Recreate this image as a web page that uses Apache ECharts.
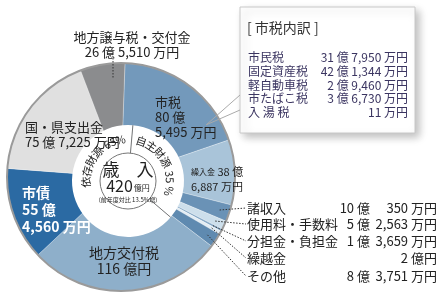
<!DOCTYPE html>
<html><head><meta charset="utf-8">
<script src="https://cdn.jsdelivr.net/npm/echarts@6/dist/echarts.min.js"></script>
<style>html,body{margin:0;padding:0;background:#fff}#c{width:447px;height:304px}</style>
</head><body><div id="c"></div>
<script>
// ---- data (values in 万円) ----
const categories = ['市税','繰入金','諸収入','使用料・手数料','分担金・負担金','繰越金','その他','地方交付税','市債','国・県支出金','地方譲与税・交付金'];
const values = [805495, 386887, 100350, 52563, 13659, 20000, 83751, 1160000, 554560, 757225, 265510];
const sliceColors = ['#7399bb','#a9c4d9','#6a92b6','#cddfeb','#85a8c6','#e3edf4','#5f8ab0','#8eafca','#2b6aa3','#e0e0e0','#8b8c8e'];
const sourceGroups = ['自主財源','依存財源'];
const sourceShares = ['35 %','65%'];
const breakdownNames = ['市民税','固定資産税','軽自動車税','市たばこ税','入 湯 税'];
const breakdownValues = [317950, 421344, 29460, 36730, 11];
const centerTitle = '歳　入';
const totalOku = '420';
const changeNote = '(前年度対比 13.5%増)';

const FONT = '"Noto Sans CJK JP", "Noto Sans", sans-serif';
const C = [121, 177], R = 114;          // outer pie
const H = [128, 181], HR = 56, IR = 28; // hole / inner circle
const START = 88;                        // echarts startAngle (deg, ccw from +x)

function sep(n){ return n.toLocaleString('en-US'); }
function parts(v){ const o=Math.floor(v/10000), m=v%10000; return {o, m}; }
function fmtFull(v){
  const p=parts(v);
  if(p.m===0) return p.o+' 億円';
  if(p.o===0) return sep(p.m)+' 万円';
  return p.o+' 億 '+sep(p.m)+' 万円';
}

const total = values.reduce((a,b)=>a+b,0);
const selfSum = values.slice(0,7).reduce((a,b)=>a+b,0);
// clockwise angle from top for each slice boundary
const offset = 90-START;
const cum=[0]; values.forEach(v=>cum.push(cum[cum.length-1]+v/total*360));
function pt(center, r, th){ const a=th*Math.PI/180; return [center[0]+r*Math.sin(a), center[1]-r*Math.cos(a)]; }
function midAngle(i){ return offset+(cum[i]+cum[i+1])/2; }

const g = [];
function txt(x,y,text,size,opt){
  opt=opt||{};
  g.push({type:'text', z:100, x:x, y:y, rotation:opt.rot||0,
    style:{text:text, x:0, y:0, fill:opt.fill||'#222', font:(opt.weight||'normal')+' '+size+'px '+FONT,
      textAlign:opt.align||'left', textVerticalAlign:'middle'}});
}
function line(pts, opt){
  opt=opt||{};
  g.push({type:'polyline', z:99, shape:{points:pts}, style:{stroke:opt.stroke||'#333', lineWidth:opt.w||1, lineDash:opt.dash||null, fill:null}});
}

// outer border ring
g.push({type:'circle', z:50, shape:{cx:C[0], cy:C[1], r:R}, style:{fill:null, stroke:'#9a9a9a', lineWidth:2}});
// inner circle
g.push({type:'circle', z:60, shape:{cx:H[0], cy:H[1], r:IR}, style:{fill:'#fff', stroke:'#777', lineWidth:1}});
// inner dividers (自主/依存)
const innerStart = 5, innerSplit = innerStart + selfSum/total*360;
[innerStart, innerSplit].forEach(th=>{ line([pt(H,IR,th), pt(H,HR,th)], {stroke:'#777'}); });

// arc text
function charW(ch, fs){ if(ch===' ') return fs*0.3; if(/[0-9]/.test(ch)) return fs*0.6; if(ch==='%') return fs*0.8; return fs; }
function arcText(str, startDeg, r, fs){
  let cur=startDeg;
  for(const ch of str){
    const w=charW(ch,fs), d=w/r*180/Math.PI;
    const th=cur+d/2; const p=pt(H,r,th);
    if(ch!==' ') txt(p[0],p[1],ch,fs,{align:'center', rot:-th*Math.PI/180});
    cur+=d;
  }
}
arcText(sourceGroups[0]+' '+sourceShares[0], innerStart+6, 42, 11);
arcText(sourceGroups[1]+' '+sourceShares[1], 261, 42, 11);

// center text
txt(H[0], 170, centerTitle, 17, {align:'center'});
g.push({type:'text', z:100, x:H[0], y:186, style:{text:'{a|'+totalOku+'}{b|億円}', x:0, y:0, textAlign:'center', textVerticalAlign:'middle',
  rich:{a:{font:'16px '+FONT, fill:'#222'}, b:{font:'8px '+FONT, fill:'#222', padding:[4,0,0,1]}}}});
txt(H[0], 200, changeNote, 6, {align:'center'});

// slice labels
(function(){
  const p=parts(values[0]);
  txt(155,102,categories[0],13); txt(155,117,p.o+' 億',13); txt(155,132,sep(p.m)+' 万円',13);
  const q=parts(values[1]);
  g.push({type:'text', z:100, x:191, y:172, style:{text:'{s|'+categories[1]+'}{b| '+q.o+' 億}', x:0,y:0, textVerticalAlign:'middle',
     rich:{s:{font:'8px '+FONT, fill:'#222'}, b:{font:'11px '+FONT, fill:'#222'}}}});
  txt(191,187,sep(q.m)+' 万円',11);
  const t=parts(values[7]);
  txt(124,253,categories[7],14,{align:'center'}); txt(124,269,t.o+' 億円',14,{align:'center'});
  const s=parts(values[8]);
  txt(22,193,categories[8],14,{fill:'#fff',weight:'bold'}); txt(22,210,s.o+' 億',14,{fill:'#fff',weight:'bold'}); txt(22,227,sep(s.m)+' 万円',14,{fill:'#fff',weight:'bold'});
  const k=parts(values[9]);
  txt(25,127,categories[9],13); txt(25,142,k.o+' 億 '+sep(k.m)+' 万円',13);
  const c=parts(values[10]);
  txt(132,37,categories[10],13,{align:'center'}); txt(132,52,c.o+' 億 '+sep(c.m)+' 万円',13,{align:'center'});
  line([[113,58],[113,78]],{dash:[1.5,1.5]});
})();

// right-side small slices
const rowY=[208,224,241,258,276];
for(let i=2;i<=6;i++){
  const y=rowY[i-2];
  const p=pt(C,104,midAngle(i));
  line([p,[246,y]],{dash:[1.5,1.5]});
  txt(247,y,categories[i],13);
  const pp=parts(values[i]);
  if(pp.m===0){ txt(437,y,pp.o+' 億円',13,{align:'right'}); }
  else { txt(370,y,pp.o+' 億',13,{align:'right'}); txt(437,y,sep(pp.m)+' 万円',13,{align:'right'}); }
}

// breakdown box
g.push({type:'rect', z:90, shape:{x:240,y:7,width:175,height:126}, style:{fill:'#fff', stroke:'#c8c8c8', lineWidth:1, shadowBlur:8, shadowColor:'rgba(0,0,0,0.25)', shadowOffsetX:4, shadowOffsetY:4}});
txt(247,28,'[ '+categories[0]+'内訳 ]',14,{fill:'#333'});
const boxY=[57,71,85,98,112];
breakdownNames.forEach((n,i)=>{
  txt(248,boxY[i],n,12,{fill:'#3b3561'});
  txt(408,boxY[i],fmtFull(breakdownValues[i]),12,{fill:'#3b3561',align:'right'});
});
// callout to 市税 slice
const cp = pt(C,100,midAngle(0)+22);
line([cp,[240,95]],{stroke:'#aaa'}); line([cp,[240,110]],{stroke:'#aaa'});

const chart = echarts.init(document.getElementById('c'));
chart.setOption({
  animation:false,
  series:[
    {type:'pie', center:C, radius:[0,R], startAngle:START, clockwise:true, silent:true,
     label:{show:false}, labelLine:{show:false},
     itemStyle:{borderColor:'rgba(255,255,255,0.45)', borderWidth:0.6},
     data: categories.map((n,i)=>({name:n, value:values[i], itemStyle:{color:sliceColors[i]}}))},
    {type:'pie', center:H, radius:[0,HR], startAngle:90-innerStart, silent:true, z:3,
     label:{show:false}, labelLine:{show:false}, itemStyle:{color:'#fff', borderWidth:0},
     data:[{name:sourceGroups[0], value:selfSum},{name:sourceGroups[1], value:total-selfSum}]}
  ],
  graphic: g
});
</script></body></html>
